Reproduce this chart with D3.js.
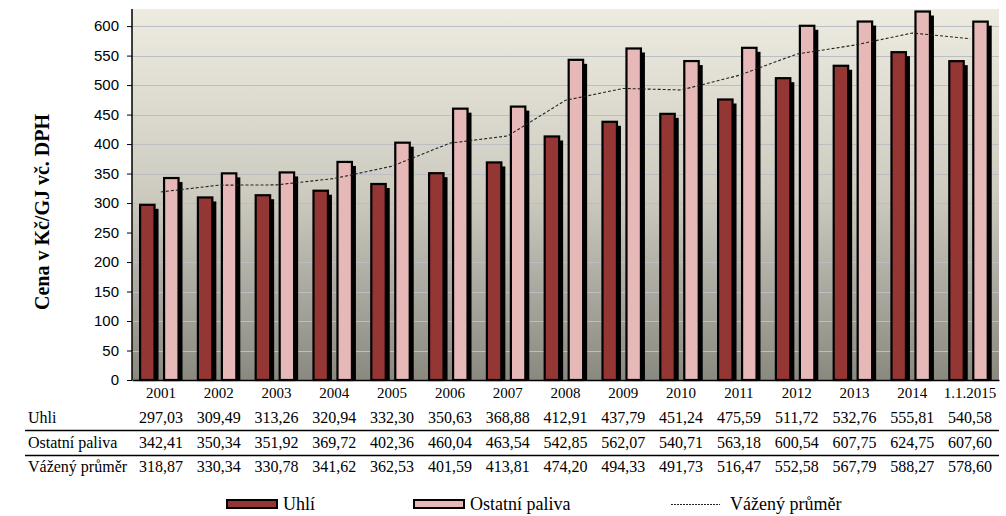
<!DOCTYPE html>
<html><head><meta charset="utf-8">
<script src="https://cdn.jsdelivr.net/npm/d3@7"></script>
<style>body{margin:0;background:#fff}svg{display:block}text{font-family:"Liberation Serif","Times New Roman",serif}text.ytick{font-family:"Liberation Sans",Arial,sans-serif}</style>
</head><body>
<script>
const categories = ["2001","2002","2003","2004","2005","2006","2007","2008","2009","2010","2011","2012","2013","2014","1.1.2015"];
const uhli = [297.03,309.49,313.26,320.94,332.30,350.63,368.88,412.91,437.79,451.24,475.59,511.72,532.76,555.81,540.58];
const ostatni = [342.41,350.34,351.92,369.72,402.36,460.04,463.54,542.85,562.07,540.71,563.18,600.54,607.75,624.75,607.60];
const vazeny = [318.87,330.34,330.78,341.62,362.53,401.59,413.81,474.20,494.33,491.73,516.47,552.58,567.79,588.27,578.60];
const yTicks = [0,50,100,150,200,250,300,350,400,450,500,550,600];
const rowLabels = ["Uhli","Ostatní paliva","Vážený průměr"];
const legendLabels = ["Uhlí","Ostatní paliva","Vážený průměr"];

const W=1006,H=516;
const L=132,R=999,T=9,B=380;
const svg=d3.select("body").append("svg").attr("width",W).attr("height",H);
const defs=svg.append("defs");
const g=defs.append("linearGradient").attr("id","bg").attr("x1",0).attr("y1",0).attr("x2",0).attr("y2",1);
g.append("stop").attr("offset","0%").attr("stop-color","#EEECE1");
g.append("stop").attr("offset","50%").attr("stop-color","#CDCBC0");
g.append("stop").attr("offset","100%").attr("stop-color","#8A8980");

const x=d3.scaleBand().domain(categories).range([L,R]).padding(0);
const y=d3.scaleLinear().domain([0,629]).range([B,T]);
const bw=x.bandwidth();

svg.append("rect").attr("x",L).attr("y",T).attr("width",R-L).attr("height",B-T).attr("fill","url(#bg)");
svg.append("g").selectAll("line").data(yTicks.filter(d=>d>0)).join("line")
  .attr("x1",L).attr("x2",R).attr("y1",d=>Math.round(y(d))+0.5).attr("y2",d=>Math.round(y(d))+0.5)
  .attr("stroke","#BDBDC4").attr("stroke-width",1.2);

const series=[{vals:uhli,fill:"#943634",off:0.14},{vals:ostatni,fill:"#E6B9B8",off:0.555}];
const barW=bw*0.25;
series.forEach(s=>{
  const gg=svg.append("g");
  gg.selectAll("rect.sh").data(categories).join("rect").attr("class","sh")
    .attr("x",(c)=>x(c)+bw*s.off+4).attr("y",(c,i)=>y(s.vals[i])+4)
    .attr("width",barW).attr("height",(c,i)=>B-y(s.vals[i])-4).attr("fill","#000");
  gg.selectAll("rect.b").data(categories).join("rect").attr("class","b")
    .attr("x",(c)=>x(c)+bw*s.off).attr("y",(c,i)=>y(s.vals[i]))
    .attr("width",barW).attr("height",(c,i)=>B-y(s.vals[i]))
    .attr("fill",s.fill).attr("stroke","#000").attr("stroke-width",2.2);
});

const line=d3.line().x((d,i)=>x(categories[i])+bw/2).y(d=>y(d));
svg.append("path").datum(vazeny).attr("d",line).attr("fill","none")
  .attr("stroke","#222").attr("stroke-width",1.1).attr("stroke-dasharray","3,2");

const ya=svg.append("g").attr("transform",`translate(${L},0)`)
  .call(d3.axisLeft(y).tickValues(yTicks).tickSize(5).tickPadding(8).tickFormat(d3.format("d")));
ya.select(".domain").attr("stroke","#000").attr("stroke-width",1.5).attr("d",`M0,${T}V${B}`);
ya.selectAll(".tick line").attr("stroke","#000");
ya.selectAll("text").attr("class","ytick").attr("font-size",15).attr("fill","#000");

const xa=svg.append("g").attr("transform",`translate(0,${B})`)
  .call(d3.axisBottom(x).tickSize(0).tickPadding(7));
xa.select(".domain").attr("stroke","#000").attr("stroke-width",1.5);
xa.selectAll("text").attr("font-size",15).attr("fill","#000");

svg.append("text").attr("transform","translate(49,212) rotate(-90)").attr("text-anchor","middle")
  .attr("font-size",20).attr("font-weight","bold").text("Cena v Kč/GJ vč. DPH");

const rows=[uhli,ostatni,vazeny];
const rowY=[423,448,472];
const fmt=v=>v.toFixed(2).replace(".",",");
rows.forEach((r,ri)=>{
  svg.append("text").attr("x",28).attr("y",rowY[ri]).attr("font-size",16).text(rowLabels[ri]);
  svg.append("g").selectAll("text").data(r).join("text")
    .attr("x",(d,i)=>x(categories[i])+bw/2).attr("y",rowY[ri]).attr("text-anchor","middle")
    .attr("font-size",16).text(d=>fmt(d));
});
[430.5,455.5].forEach(yy=>svg.append("line").attr("x1",25).attr("x2",R).attr("y1",yy).attr("y2",yy).attr("stroke","#000").attr("stroke-width",1.3));

const lg=svg.append("g");
lg.append("rect").attr("x",227).attr("y",500).attr("width",50).attr("height",8).attr("fill","#943634").attr("stroke","#000").attr("stroke-width",2);
lg.append("text").attr("x",283).attr("y",510).attr("font-size",18).text(legendLabels[0]);
lg.append("rect").attr("x",414).attr("y",500).attr("width",50).attr("height",8).attr("fill","#E6B9B8").attr("stroke","#000").attr("stroke-width",2);
lg.append("text").attr("x",470).attr("y",510).attr("font-size",18).text(legendLabels[1]);
lg.append("line").attr("x1",671).attr("x2",720).attr("y1",504.5).attr("y2",504.5).attr("stroke","#222").attr("stroke-width",1).attr("stroke-dasharray","2,1");
lg.append("text").attr("x",730).attr("y",510).attr("font-size",18).text(legendLabels[2]);
</script>
</body></html>
